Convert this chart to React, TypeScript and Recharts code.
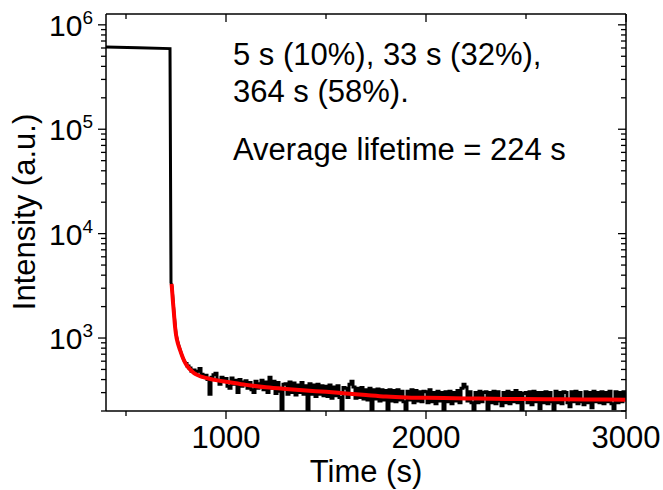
import { LineChart, Line, XAxis, YAxis, Customized } from 'recharts';

const FONT = '"Liberation Sans", Arial, Helvetica, sans-serif';

// excitation on, then switched off at ~722 s
const onsetTimes = [400, 560, 720, 725];
const onsetIntensity = [612000, 602000, 592000, 3400];

// steep part of the decay (black follows the fit closely)
const decayTimes = [730, 740, 750, 760, 770, 780, 790, 800];
const decayIntensity = [3100, 1750, 1100, 900, 780, 680, 610, 570];

// noisy tail, one reading every 10 s from 800 s to 3000 s
const NOISE_START = 800;
const NOISE_STEP = 10;
const noiseIntensity = [
  570, 540, 515, 480, 495, 470, 480, 510, 450, 430,
  440, 400, 290, 420, 445, 460, 395, 360, 420, 390,
  410, 345, 330, 415, 360, 395, 300, 400, 345, 380,
  390, 330, 375, 320, 300, 385, 330, 365, 395, 320,
  380, 300, 420, 330, 385, 295, 375, 310, 200, 360,
  365, 290, 380, 300, 370, 285, 355, 300, 375, 290,
  350, 200, 365, 290, 355, 275, 360, 290, 350, 280,
  345, 275, 355, 265, 340, 280, 350, 270, 195, 335,
  330, 270, 360, 385, 340, 265, 330, 270, 335, 260,
  320, 255, 330, 200, 320, 260, 325, 250, 320, 255,
  315, 205, 320, 250, 315, 245, 320, 255, 310, 245,
  195, 310, 255, 320, 240, 315, 250, 305, 245, 310,
  305, 240, 320, 245, 300, 235, 310, 250, 300, 205,
  305, 245, 310, 235, 300, 250, 315, 240, 330, 360,
  340, 250, 305, 240, 200, 300, 240, 310, 245, 300,
  305, 200, 300, 240, 310, 235, 305, 250, 225, 300,
  240, 310, 235, 300, 245, 315, 240, 300, 205, 295,
  300, 240, 305, 230, 310, 245, 300, 210, 300, 240,
  305, 235, 300, 245, 205, 310, 240, 300, 235, 305,
  300, 240, 220, 305, 245, 310, 235, 300, 245, 230,
  305, 240, 300, 215, 310, 245, 300, 240, 305, 235,
  300, 245, 310, 235, 210, 305, 240, 300, 245, 305,
  260,
];

// tri-exponential fit (red)
const fitTimes = [
  728, 735, 740, 745, 750, 760, 770, 780, 790, 800, 820, 840, 860, 880, 900,
  950, 1000, 1100, 1200, 1300, 1400, 1500, 1600, 1700, 1800, 1900, 2000,
  2200, 2400, 2600, 2800, 3000,
];
const fitIntensity = [
  3300, 2200, 1700, 1300, 1080, 880, 770, 680, 610, 560, 500, 462, 440, 424, 415,
  395, 382, 356, 338, 325, 314, 305, 294, 284, 275, 270, 268,
  264, 261, 259, 258, 257,
];

const xTicks = [500, 1000, 1500, 2000, 2500, 3000];
const xLabelled = [1000, 2000, 3000];
const yMajor = [1e3, 1e4, 1e5, 1e6];
const yMinorMult = [2, 3, 4, 5, 6, 7, 8, 9];
const Y_DOMAIN = [200, 1270000];

const annotationLines = ['5 s (10%), 33 s (32%),', '364 s (58%).', 'Average lifetime = 224 s'];

const measuredHead = [
  ...onsetTimes.map((t, i) => ({ t, v: onsetIntensity[i] })),
  ...decayTimes.map((t, i) => ({ t, v: decayIntensity[i] })),
];
const measuredTail = noiseIntensity.map((v, i) => ({ t: NOISE_START + i * NOISE_STEP, v }));
const fit = fitTimes.map((t, i) => ({ t, v: fitIntensity[i] }));

const yTicks: number[] = [];
[100, 1000, 10000, 100000].forEach((dec) => {
  yMinorMult.forEach((m) => {
    const v = dec * m;
    if (v >= Y_DOMAIN[0] && v <= Y_DOMAIN[1]) yTicks.push(v);
  });
});
yTicks.push(...yMajor);
yTicks.sort((a, b) => a - b);

const isMajorY = (v: number) => yMajor.includes(v);

const LeftTick = (props: any) => {
  const { x, y, payload } = props;
  const v = payload.value;
  const major = isMajorY(v);
  return (
    <g>
      <line x1={x} x2={x - (major ? 8 : 5)} y1={y} y2={y} stroke="#000" strokeWidth={1.3} />
      {major && (
        <text x={x - 13} y={y + 11} textAnchor="end" fontFamily={FONT} fontSize={30} fill="#000">
          10
          <tspan dy={-12} fontSize={19}>
            {Math.round(Math.log10(v))}
          </tspan>
        </text>
      )}
    </g>
  );
};

const RightTick = (props: any) => {
  const { x, y, payload } = props;
  const major = isMajorY(payload.value);
  return <line x1={x} x2={x - (major ? 8 : 5)} y1={y} y2={y} stroke="#000" strokeWidth={1.3} />;
};

const BottomTick = (props: any) => {
  const { x, y, payload } = props;
  const major = xLabelled.includes(payload.value);
  return (
    <g>
      <line x1={x} x2={x} y1={y} y2={y + (major ? 8 : 5)} stroke="#000" strokeWidth={1.3} />
      {major && (
        <text x={x} y={y + 37} textAnchor="middle" fontFamily={FONT} fontSize={31} fill="#000">
          {payload.value}
        </text>
      )}
    </g>
  );
};

const TopTick = (props: any) => {
  const { x, y, payload } = props;
  const major = xLabelled.includes(payload.value);
  return <line x1={x} x2={x} y1={y} y2={y + (major ? 8 : 5)} stroke="#000" strokeWidth={1.3} />;
};

const Annotations = () => (
  <g fontFamily={FONT} fill="#000">
    <text x={233} y={65} fontSize={31}>{annotationLines[0]}</text>
    <text x={233} y={102} fontSize={31}>{annotationLines[1]}</text>
    <text x={233} y={160} fontSize={31}>{annotationLines[2]}</text>
    <text x={366} y={482} fontSize={31} textAnchor="middle">Time (s)</text>
    <text x={35} y={212} fontSize={31} textAnchor="middle" transform="rotate(-90, 35, 212)">
      Intensity (a.u.)
    </text>
  </g>
);

const axisStroke = { stroke: '#000', strokeWidth: 1.5 };

export default function App() {
  return (
    <div style={{ position: 'absolute', left: 0, top: 0, background: '#fff' }}>
      <LineChart width={663} height={490} margin={{ top: 13, right: 36, bottom: 0, left: 0 }}>
        <XAxis
          dataKey="t"
          type="number"
          domain={[400, 3000]}
          allowDataOverflow
          ticks={xTicks}
          interval={0}
          tick={<BottomTick />}
          tickLine={false}
          tickSize={0}
          tickMargin={0}
          axisLine={axisStroke}
          height={79}
        />
        <XAxis
          xAxisId="top"
          orientation="top"
          dataKey="t"
          type="number"
          domain={[400, 3000]}
          allowDataOverflow
          ticks={xTicks}
          interval={0}
          tick={<TopTick />}
          tickLine={false}
          tickSize={0}
          tickMargin={0}
          axisLine={axisStroke}
          height={1}
        />
        <YAxis
          scale="log"
          type="number"
          domain={Y_DOMAIN}
          allowDataOverflow
          ticks={yTicks}
          interval={0}
          tick={<LeftTick />}
          tickLine={false}
          tickSize={0}
          tickMargin={0}
          axisLine={axisStroke}
          width={106}
        />
        <YAxis
          yAxisId="right"
          orientation="right"
          scale="log"
          type="number"
          domain={Y_DOMAIN}
          allowDataOverflow
          ticks={yTicks}
          interval={0}
          tick={<RightTick />}
          tickLine={false}
          tickSize={0}
          tickMargin={0}
          axisLine={axisStroke}
          width={1}
        />
        <Line
          data={measuredHead}
          dataKey="v"
          type="linear"
          stroke="#000"
          strokeWidth={3}
          dot={false}
          isAnimationActive={false}
        />
        <Line
          data={measuredTail}
          dataKey="v"
          type="step"
          stroke="#000"
          strokeWidth={3}
          dot={false}
          isAnimationActive={false}
        />
        <Line
          data={fit}
          dataKey="v"
          type="monotone"
          stroke="#ff0000"
          strokeWidth={4}
          dot={false}
          isAnimationActive={false}
        />
        <Line
          xAxisId="top"
          yAxisId="right"
          data={fit}
          dataKey="v"
          stroke="none"
          dot={false}
          legendType="none"
          isAnimationActive={false}
        />
        <Customized component={Annotations} />
      </LineChart>
    </div>
  );
}
